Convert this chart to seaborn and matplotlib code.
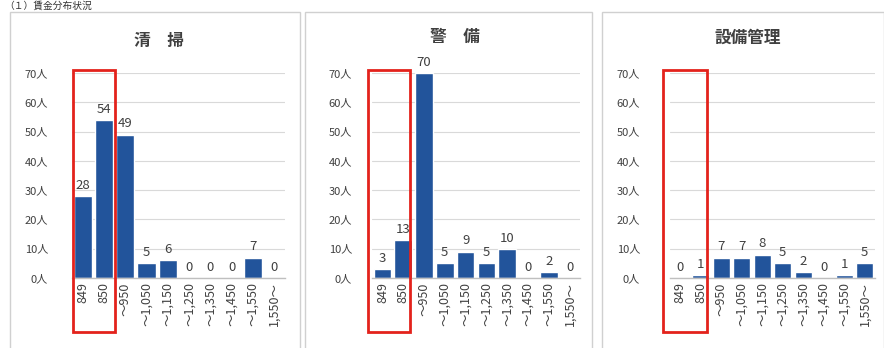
import matplotlib
matplotlib.use("Agg")
import matplotlib.pyplot as plt
import seaborn as sns
import pandas as pd
from matplotlib.patches import Rectangle

sns.set_theme(style="white")
plt.rcParams['font.family'] = ['Noto Sans CJK JP', 'DejaVu Sans']

categories = ["849", "850", "～950", "～1,050", "～1,150", "～1,250",
              "～1,350", "～1,450", "～1,550", "1,550～"]
titles = ["清　掃", "警　備", "設備管理"]
cleaning = [28, 54, 49, 5, 6, 0, 0, 0, 7, 0]
security = [3, 13, 70, 5, 9, 5, 10, 0, 2, 0]
facility = [0, 1, 7, 7, 8, 5, 2, 0, 1, 5]
yticks = [0, 10, 20, 30, 40, 50, 60, 70]
ytick_labels = [f"{v}人" for v in yticks]
header = "（１）賃金分布状況"

W, H = 884, 348
fig = plt.figure(figsize=(W / 100, H / 100), dpi=100)

# panel layout in pixels: (plot left, plot right, title x, title y, border left, border right, tick pad px, red box x0, x1)
panels = [
    (72, 285, 159, 41, 10, 300, 24, 73, 115),
    (372, 580, 455, 37, 305, 592, 20, 368, 410),
    (670, 875, 748, 38, 602, 884, 30, 663, 707),
]
series = [cleaning, security, facility]
plot_top, plot_bot = 73, 278
bar_color = "#22549B"
text_color = "#404040"

for (pl, pr, tx, ty, bl, br, pad, rx0, rx1), vals, title in zip(panels, series, titles):
    # panel border
    fig.patches.append(Rectangle((bl / W, -0.1), (br - bl) / W, 1.1 - 12 / H,
                                 transform=fig.transFigure, fill=False,
                                 edgecolor="#D0D0D0", linewidth=1.0))
    ax = fig.add_axes([pl / W, 1 - plot_bot / H, (pr - pl) / W, (plot_bot - plot_top) / H])
    df = pd.DataFrame({"cat": categories, "val": vals})
    sns.barplot(data=df, x="cat", y="val", order=categories, color=bar_color,
                saturation=1, width=0.85, ax=ax)
    ax.set_xlim(-0.5, len(categories) - 0.5)
    ax.set_ylim(0, 70)
    ax.set_yticks(yticks)
    ax.set_yticklabels(ytick_labels, fontsize=8, color=text_color)
    ax.tick_params(axis="y", length=0, pad=pad * 0.72)
    ax.tick_params(axis="x", length=0, pad=3)
    ax.set_xticks(range(len(categories)))
    ax.set_xticklabels(categories, rotation=90, fontsize=9, color=text_color,
                       va="top", ha="center")
    ax.set_xlabel("")
    ax.set_ylabel("")
    ax.grid(axis="y", color="#D9D9D9", linewidth=0.8)
    ax.set_axisbelow(True)
    for s in ["left", "right", "top"]:
        ax.spines[s].set_visible(False)
    ax.spines["bottom"].set_color("#BFBFBF")
    ax.spines["bottom"].set_linewidth(1.0)
    for c in ax.containers:
        lbls = ax.bar_label(c, labels=[str(v) for v in vals], padding=3,
                            fontsize=9.5, color=text_color)
        for t in lbls:
            t.set_clip_on(False)
    fig.text(tx / W, 1 - ty / H, title, ha="center", va="center",
             fontsize=12, color=text_color, fontweight="bold")
    # red highlight box
    fig.patches.append(Rectangle((rx0 / W, 1 - 332 / H), (rx1 - rx0) / W, (332 - 70) / H,
                                 transform=fig.transFigure, fill=False,
                                 edgecolor="#E3221C", linewidth=2.0))

fig.text(0.005, 1 - 1 / H, header, ha="left", va="top", fontsize=7,
         color="#333333")

fig.savefig("out.png", dpi=100)
